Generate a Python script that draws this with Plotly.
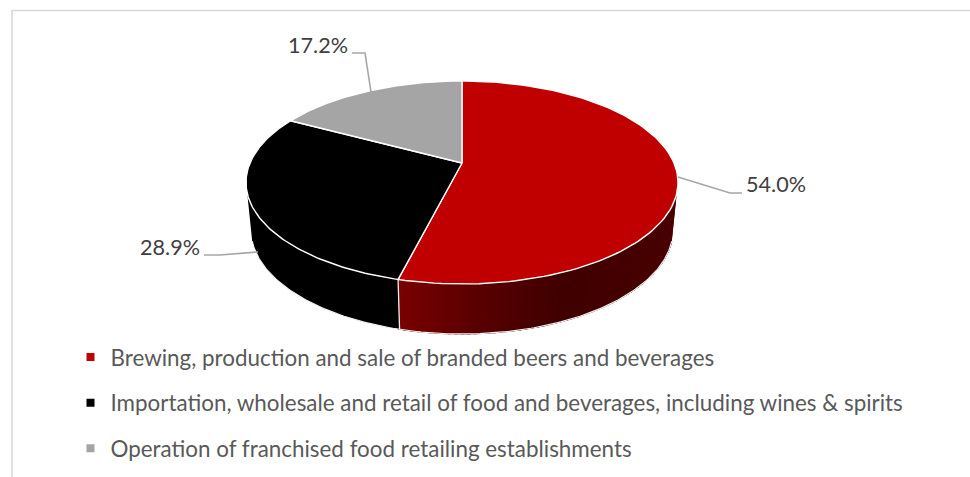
import numpy as np
import plotly.graph_objects as go

categories = [
    "Brewing, production and sale of branded beers and beverages",
    "Importation, wholesale and retail of food and beverages, including wines & spirits",
    "Operation of franchised food retailing establishments",
]
values = [54.0, 28.9, 17.2]
labels = ["54.0%", "28.9%", "17.2%"]
colors = ["#C00000", "#000000", "#A5A5A5"]

W, H = 970, 477
TILT = 0.192
TOP = dict(cx=462, cy=182.5, rx=216, ry=101.5)
BOT = dict(cx=462, cy=230, rx=211, ry=104)
SIDE_FROM, SIDE_TO = 107, 253


def project(theta_deg, e):
    t = np.radians(np.asarray(theta_deg, dtype=float))
    sx, cy = np.sin(t), np.cos(t)
    d = 1 + TILT * cy
    xn = sx * np.sqrt(1 - TILT ** 2) / d
    yn = (cy + TILT) / d
    return e["cx"] + e["rx"] * xn, e["cy"] - e["ry"] * yn


def arc(a, b, e, n=120):
    return project(np.linspace(a, b, n), e)


def side_color(x):
    # fading dark-red shading across the front wall
    stops_x = [398, 480, 560, 680]
    r = np.interp(x, stops_x, [122, 88, 64, 74])
    return f"rgb({int(r)},0,0)"


total = sum(values)
edges = np.concatenate([[0], np.cumsum(values) / total * 360])
fig = go.Figure()
no_hover = dict(mode="lines", showlegend=False, hoverinfo="skip")

bx, by = arc(SIDE_FROM, SIDE_TO, BOT, 200)
red_end = edges[1]
band_edges = np.linspace(SIDE_FROM, red_end, 61)
for a, b in zip(band_edges[:-1], band_edges[1:]):
    tx, ty = arc(a, b + 0.5, TOP, 6)
    ux, uy = arc(a, b + 0.5, BOT, 6)
    col = side_color(float(np.mean(ux)))
    fig.add_trace(go.Scatter(x=np.r_[tx, ux[::-1]], y=np.r_[ty, uy[::-1]], fill="toself",
                             fillcolor=col, line=dict(width=1, color=col), **no_hover))
tx, ty = arc(red_end, SIDE_TO, TOP)
ux, uy = arc(red_end, SIDE_TO, BOT)
fig.add_trace(go.Scatter(x=np.r_[tx, ux[::-1]], y=np.r_[ty, uy[::-1]], fill="toself",
                         fillcolor=colors[1], line=dict(width=0, color=colors[1]), **no_hover))
fig.add_trace(go.Scatter(x=bx, y=by, line=dict(color="#F2F2F2", width=1.2), **no_hover))
sx0, sy0 = project([red_end], TOP)
sx1, sy1 = project([red_end], BOT)
fig.add_trace(go.Scatter(x=[sx0[0], sx1[0]], y=[sy0[0], sy1[0]], line=dict(color="#F2F2F2", width=1.3), **no_hover))

apex_x = TOP["cx"]
apex_y = TOP["cy"] - TOP["ry"] * TILT
for i in range(3):
    x, y = arc(edges[i], edges[i + 1], TOP)
    fig.add_trace(go.Scatter(x=np.r_[apex_x, x, apex_x], y=np.r_[apex_y, y, apex_y], fill="toself",
                             fillcolor=colors[i], line=dict(color="#FFFFFF", width=1.4), **no_hover))

for i, name in enumerate(categories):
    fig.add_trace(go.Scatter(x=[None], y=[None], mode="markers", name=name, legendgroup=f"g{i}",
                             marker=dict(symbol="square", size=8, color=colors[i]), hoverinfo="skip"))

leaders = [
    ([678, 730, 742], [177, 193, 193]),
    ([258, 220, 204], [252, 255, 255]),
    ([371, 365, 352], [92, 53, 53]),
]
for lx, ly in leaders:
    fig.add_trace(go.Scatter(x=lx, y=ly, line=dict(color="#A6A6A6", width=1.6), **no_hover))

label_pos = [(775.5, 184), (170, 247), (317.5, 45)]
annotations = [dict(x=p[0], y=p[1], text=t, showarrow=False, xanchor="center", yanchor="middle",
                    font=dict(family="Lato", size=21.6, color="#404040"))
               for p, t in zip(label_pos, labels)]

frame = [
    dict(type="line", x0=12, x1=12, y0=10, y1=H, line=dict(color="#D9D9D9", width=1.6)),
    dict(type="line", x0=11, x1=W, y0=10.5, y1=10.5, line=dict(color="#D9D9D9", width=1.3)),
]

fig.update_layout(
    width=W, height=H, margin=dict(l=0, r=0, t=0, b=0),
    paper_bgcolor="#FFFFFF", plot_bgcolor="#FFFFFF",
    xaxis=dict(range=[0, W], visible=False, fixedrange=True),
    yaxis=dict(range=[H, 0], visible=False, fixedrange=True),
    shapes=frame, annotations=annotations,
    legend=dict(x=70.5 / W, y=1 - 336 / H, xanchor="left", yanchor="top", traceorder="grouped",
                tracegroupgap=13.5, font=dict(family="Lato", size=22.4, color="#595959"),
                bgcolor="rgba(0,0,0,0)", itemclick=False, itemdoubleclick=False),
)
fig.write_html("out.html", config={"displayModeBar": False},
               post_script="document.body.style.margin='0';")
